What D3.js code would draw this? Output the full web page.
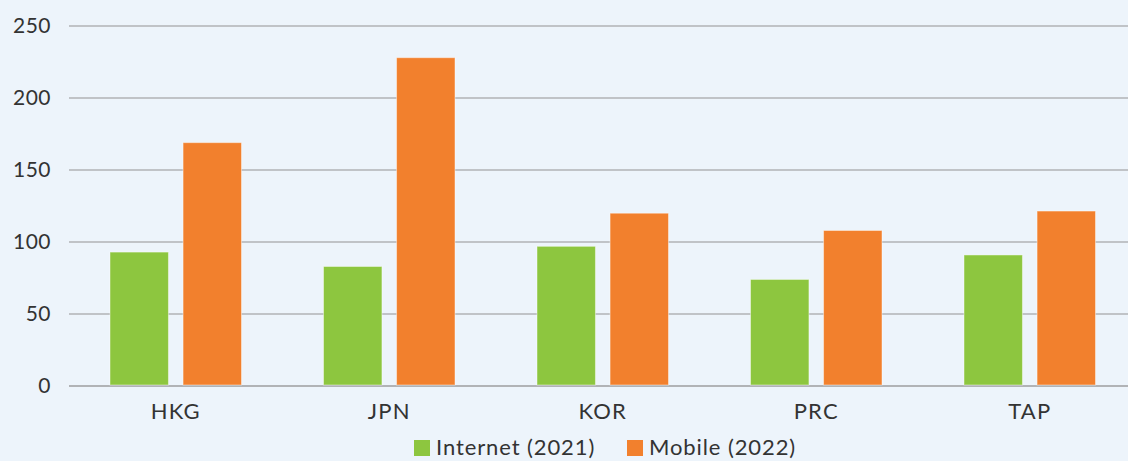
<!DOCTYPE html>
<html>
<head>
<meta charset="utf-8">
<script src="https://cdn.jsdelivr.net/npm/d3@7"></script>
<style>
  html, body { margin: 0; padding: 0; background: #edf4fb; }
  svg { display: block; }
  text { font-family: Lato, "Open Sans", sans-serif; fill: #333; }
</style>
</head>
<body>
<div class="chart-container"></div>
<script>
var categories = ['HKG', 'JPN', 'KOR', 'PRC', 'TAP'];
var seriesNames = ['Internet (2021)', 'Mobile (2022)'];
var internet = [93, 83, 97, 74, 91];
var mobile = [169, 228, 120, 108, 121.5];
var yTicks = [0, 50, 100, 150, 200, 250];

var colors = ['#8dc63f', '#f2802d'];
var width = 1128;
var height = 461;
var margin = {top: 26, left: 69, bottom: 75};

var rows = categories.map((c, i) => ({cat: c, values: [internet[i], mobile[i]]}));

var x = d3.scaleBand()
  .domain(categories)
  .range([margin.left, margin.left + 1067.5])
  .paddingInner(0)
  .paddingOuter(0);

var x1 = d3.scaleBand()
  .domain([0, 1])
  .range([41, x.bandwidth() - 41])
  .paddingInner(0.2);

var y = d3.scaleLinear()
  .domain([0, 250])
  .range([height - margin.bottom, margin.top]);

var svg = d3.select('.chart-container').append('svg')
  .attr('width', width)
  .attr('height', height);

// gridlines
svg.append('g')
  .selectAll('line')
  .data(yTicks)
  .enter().append('line')
    .attr('x1', margin.left)
    .attr('x2', width)
    .attr('y1', d => y(d))
    .attr('y2', d => y(d))
    .attr('stroke', '#b1b3b6')
    .attr('stroke-width', d => d === 0 ? 2 : 1.5);

var yAxis = d3.axisLeft(y).tickValues(yTicks).tickSize(0).tickPadding(0);
var gY = svg.append('g')
  .attr('transform', `translate(51,0)`)
  .call(yAxis);
gY.select('.domain').remove();
gY.selectAll('text')
  .attr('font-size', 21)
  .attr('font-family', 'Lato, sans-serif')
  .attr('letter-spacing', 0.5)
  .attr('fill', '#333');

var groups = svg.append('g')
  .selectAll('g')
  .data(rows)
  .enter().append('g')
    .attr('transform', d => `translate(${x(d.cat)},0)`);

groups.selectAll('rect')
  .data(d => d.values)
  .enter().append('rect')
    .attr('x', (d, i) => x1(i))
    .attr('width', x1.bandwidth())
    .attr('y', d => y(d))
    .attr('height', d => y(0) - y(d) - 1)
    .attr('fill', (d, i) => colors[i])
    .attr('stroke', 'rgba(255,255,255,0.45)')
    .attr('stroke-width', 1);

var xAxis = d3.axisBottom(x).tickSize(0).tickPadding(0);
var gX = svg.append('g')
  .attr('transform', `translate(0,${y(0)})`)
  .call(xAxis);
gX.select('.domain').remove();
gX.selectAll('text')
  .attr('dy', 33)
  .attr('font-size', 22)
  .attr('font-family', 'Lato, sans-serif')
  .attr('letter-spacing', 1.2)
  .attr('fill', '#333');

// legend
var legendX = [414, 627];
var legend = svg.append('g')
  .selectAll('g')
  .data(seriesNames)
  .enter().append('g')
    .attr('transform', (d, i) => `translate(${legendX[i]},440)`);
legend.append('rect')
  .attr('width', 16)
  .attr('height', 16)
  .attr('fill', (d, i) => colors[i]);
legend.append('text')
  .attr('x', 22)
  .attr('y', 15)
  .attr('font-size', 22)
  .attr('letter-spacing', 0.9)
  .text(d => d);
</script>
</body>
</html>
